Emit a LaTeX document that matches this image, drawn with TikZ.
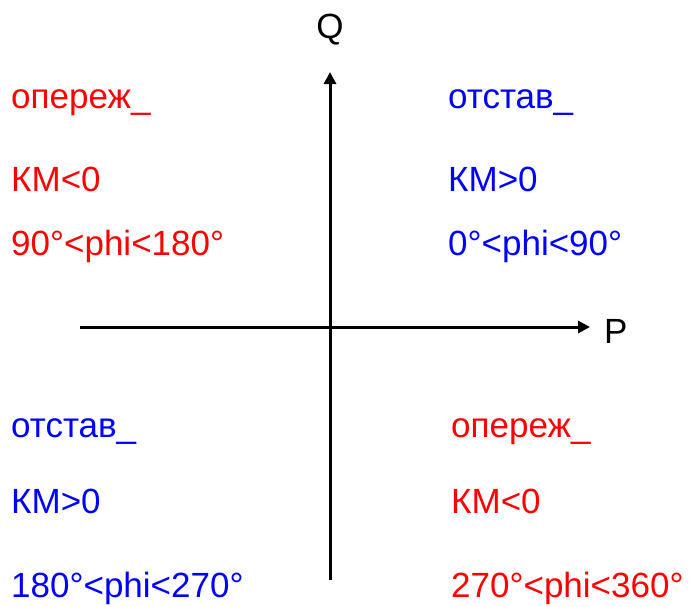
\documentclass[tikz,border=0pt]{standalone}
\usepackage{fontspec}
\setmainfont{Liberation Sans}
\usetikzlibrary{arrows.meta}
\definecolor{leadred}{RGB}{255,0,0}
\definecolor{lagblue}{RGB}{0,0,255}

\begin{document}
\begin{tikzpicture}[x=1pt,y=-1pt,
    lbl/.style={anchor=base west, inner sep=0pt, font=\fontsize{35}{40}\selectfont},
    axis/.style={line width=3pt, -{Triangle[length=12pt,width=12pt]}}]
    \useasboundingbox (0,0) rectangle (690,606);

    % Axes
    \coordinate (qlow) at (330,580);
    \coordinate (qtop) at (330,72);
    \coordinate (pleft) at (80,327);
    \coordinate (pright) at (590,327);
    \draw[axis] (qlow) -- (qtop);
    \draw[axis] (pleft) -- (pright);
    \node[lbl, anchor=base] (qlabel) at (330,38) {Q};
    \node[lbl] (plabel) at (604,343) {P};

    % Quadrant II
    \node[lbl, text=leadred] (lead2) at (11,108) {опереж\_};
    \node[lbl, text=leadred] (km2) at (11,191) {КМ<0};
    \node[lbl, text=leadred] (phi2) at (11,255) {90°<phi<180°};

    % Quadrant I
    \node[lbl, text=lagblue] (lag1) at (448,108) {отстав\_};
    \node[lbl, text=lagblue] (km1) at (448,191) {КМ>0};
    \node[lbl, text=lagblue] (phi1) at (448,255) {0°<phi<90°};

    % Quadrant III
    \node[lbl, text=lagblue] (lag3) at (11,437) {отстав\_};
    \node[lbl, text=lagblue] (km3) at (11,513) {КМ>0};
    \node[lbl, text=lagblue] (phi3) at (11,597) {180°<phi<270°};

    % Quadrant IV
    \node[lbl, text=leadred] (lead4) at (451,437) {опереж\_};
    \node[lbl, text=leadred] (km4) at (451,513) {КМ<0};
    \node[lbl, text=leadred] (phi4) at (451,597) {270°<phi<360°};
\end{tikzpicture}
\end{document}
